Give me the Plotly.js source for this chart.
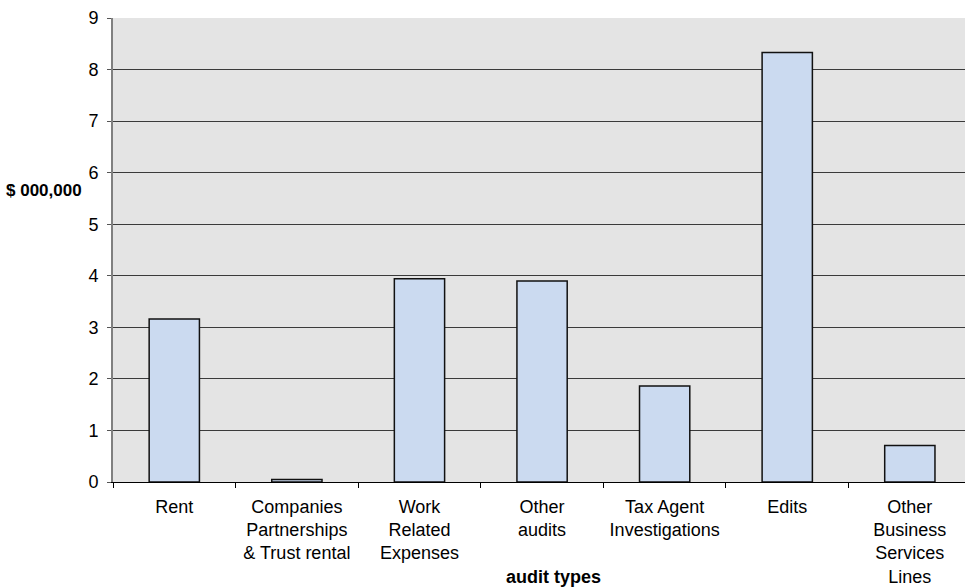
<!DOCTYPE html>
<html>
<head>
<meta charset="utf-8">
<script src="https://cdn.plot.ly/plotly-3.0.1.min.js"></script>
<style>
  html, body { margin: 0; padding: 0; background: #ffffff; }
  #chart { width: 965px; height: 587px; }
</style>
</head>
<body>
<div id="chart"></div>
<script>
// Audit types and the amount raised by each, in $ 000,000
const auditTypes = [
  "Rent",
  "Companies<br>Partnerships<br>& Trust rental",
  "Work<br>Related<br>Expenses",
  "Other<br>audits",
  "Tax Agent<br>Investigations",
  "Edits",
  "Other<br>Business<br>Services<br>Lines"
];
const amounts = [3.16, 0.05, 3.94, 3.90, 1.86, 8.33, 0.71];
const yTicks = [0, 1, 2, 3, 4, 5, 6, 7, 8, 9];

const FONT = "Liberation Sans, Arial, Helvetica, sans-serif";

const trace = {
  type: "bar",
  x: auditTypes,
  y: amounts,
  marker: {
    color: "#cbdaf0",
    line: { color: "#111111", width: 1.5 }
  },
  hoverinfo: "skip"
};

const layout = {
  width: 965,
  height: 587,
  margin: { l: 113, r: 0, t: 18, b: 105, pad: 0 },
  paper_bgcolor: "#ffffff",
  plot_bgcolor: "#e4e4e4",
  showlegend: false,
  bargap: 0.59,
  font: { family: FONT, size: 18, color: "#000000" },
  xaxis: {
    type: "category",
    range: [-0.5, 6.45],
    showgrid: false,
    zeroline: false,
    showline: true,
    linecolor: "#000000",
    linewidth: 1,
    ticks: "outside",
    tickson: "boundaries",
    ticklen: 5,
    tickcolor: "#000000",
    tickwidth: 1,
    ticklabelstandoff: 8,
    tickfont: { family: FONT, size: 18, color: "#000000" },
    fixedrange: true
  },
  yaxis: {
    range: [0, 9],
    tickvals: yTicks,
    ticktext: yTicks.map(String),
    showgrid: true,
    gridcolor: "#3a3a3a",
    gridwidth: 1,
    zeroline: false,
    showline: true,
    linecolor: "#808080",
    linewidth: 2,
    ticks: "outside",
    ticklen: 4,
    tickcolor: "#555555",
    ticklabelstandoff: 5,
    tickfont: { family: FONT, size: 18, color: "#000000" },
    fixedrange: true
  },
  annotations: [
    {
      text: "<b>$ 000,000</b>",
      xref: "paper", yref: "paper",
      x: -(113 - 84) / 852, y: (482 - 190) / 464,
      xanchor: "right", yanchor: "middle",
      showarrow: false,
      font: { family: FONT, size: 17, color: "#000000" }
    },
    {
      text: "<b>audit types</b>",
      xref: "paper", yref: "paper",
      x: (553 - 113) / 852, y: -(577 - 482) / 464,
      xanchor: "center", yanchor: "middle",
      showarrow: false,
      font: { family: FONT, size: 18, color: "#000000" }
    }
  ]
};

Plotly.newPlot("chart", [trace], layout, { displayModeBar: false, staticPlot: true });
</script>
</body>
</html>
